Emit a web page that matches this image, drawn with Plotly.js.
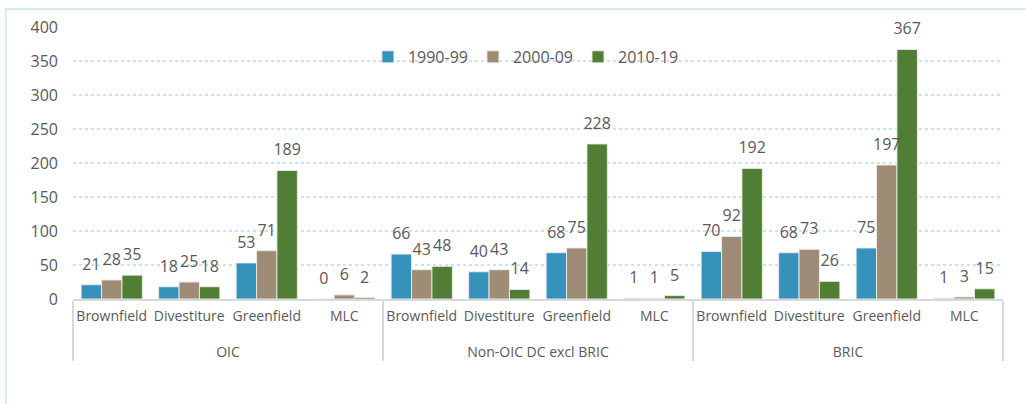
<!DOCTYPE html>
<html>
<head>
<meta charset="utf-8">
<script src="https://cdn.plot.ly/plotly-3.0.1.min.js"></script>
<style>
  html, body { margin: 0; padding: 0; background: #fff; }
  #chart { width: 1026px; height: 404px; }
</style>
</head>
<body>
<div id="chart"></div>
<script>
// groups and deal types
const regions = ['OIC', 'Non-OIC DC excl BRIC', 'BRIC'];
const dealTypes = ['Brownfield', 'Divestiture', 'Greenfield', 'MLC'];
const periods = ['1990-99', '2000-09', '2010-19'];

// values per region, in dealTypes order
const v1990 = [21, 18, 53, 0,   66, 40, 68, 1,   70, 68, 75, 1];
const v2000 = [28, 25, 71, 6,   43, 43, 75, 1,   92, 73, 197, 3];
const v2010 = [35, 18, 189, 2,  48, 14, 228, 5,  192, 26, 367, 15];

const colors = ['#3593bb', '#9e8c77', '#507e34'];
const textColor = '#595959';
const fontFam = '"Open Sans", "DejaVu Sans", sans-serif';

// build the two-level category axis (group label pushed down a line)
const xGroup = [];
const xType = [];
regions.forEach(r => {
    dealTypes.forEach(t => {
        xGroup.push('<br>' + r);
        xType.push(t);
    });
});

const series = [v1990, v2000, v2010];
const data = [];

series.forEach((vals, i) => {
    data.push({
        type: 'bar',
        name: periods[i],
        x: [xGroup, xType],
        y: vals,
        offsetgroup: String(i),
        marker: {
            color: colors[i],
            line: { color: 'rgba(235,235,235,0.9)', width: 1 }
        },
        hoverinfo: 'y+name'
    });
});

// value labels, lifted a bit above the bars like the original
series.forEach((vals, i) => {
    data.push({
        type: 'scatter',
        mode: 'markers+text',
        x: [xGroup, xType],
        y: vals,
        offsetgroup: String(i),
        text: vals.map(String),
        textposition: 'top center',
        textfont: { family: fontFam, size: 16, color: textColor },
        marker: { size: 16, opacity: 0 },
        showlegend: false,
        hoverinfo: 'skip',
        cliponaxis: false
    });
});

const layout = {
    width: 1026,
    height: 404,
    margin: { l: 73, r: 23, t: 27, b: 105 },
    paper_bgcolor: '#ffffff',
    plot_bgcolor: '#ffffff',
    font: { family: fontFam, color: textColor, size: 14 },
    barmode: 'group',
    scattermode: 'group',
    bargap: 0.21,
    bargroupgap: 0,
    xaxis: {
        type: 'multicategory',
        showline: true,
        linecolor: '#d9d9d9',
        linewidth: 1.5,
        showdividers: true,
        dividercolor: '#d9d9d9',
        dividerwidth: 1.5,
        tickangle: 0,
        tickfont: { family: fontFam, size: 14, color: textColor },
        ticklabelstandoff: 4,
        showgrid: false,
        zeroline: false
    },
    yaxis: {
        range: [0, 400],
        dtick: 50,
        showline: false,
        zeroline: false,
        gridcolor: '#c9e3f2',
        griddash: 'dot',
        gridwidth: 1.5,
        tickfont: { family: fontFam, size: 16, color: textColor },
        ticklabelstandoff: 14
    },
    legend: {
        orientation: 'h',
        x: 0.487,
        xanchor: 'center',
        y: 0.89,
        yanchor: 'middle',
        bgcolor: 'rgba(0,0,0,0)',
        font: { family: fontFam, size: 16, color: textColor },
        itemwidth: 30,
        traceorder: 'normal'
    },
    shapes: [{
        type: 'rect',
        xref: 'paper',
        yref: 'paper',
        x0: -0.072,
        x1: 1.2,
        y0: -0.6,
        y1: 1.066,
        line: { color: '#d6ebf5', width: 2 },
        fillcolor: 'rgba(0,0,0,0)',
        layer: 'below'
    }],
    showlegend: true
};

Plotly.newPlot('chart', data, layout, { displayModeBar: false, staticPlot: true });
</script>
</body>
</html>
